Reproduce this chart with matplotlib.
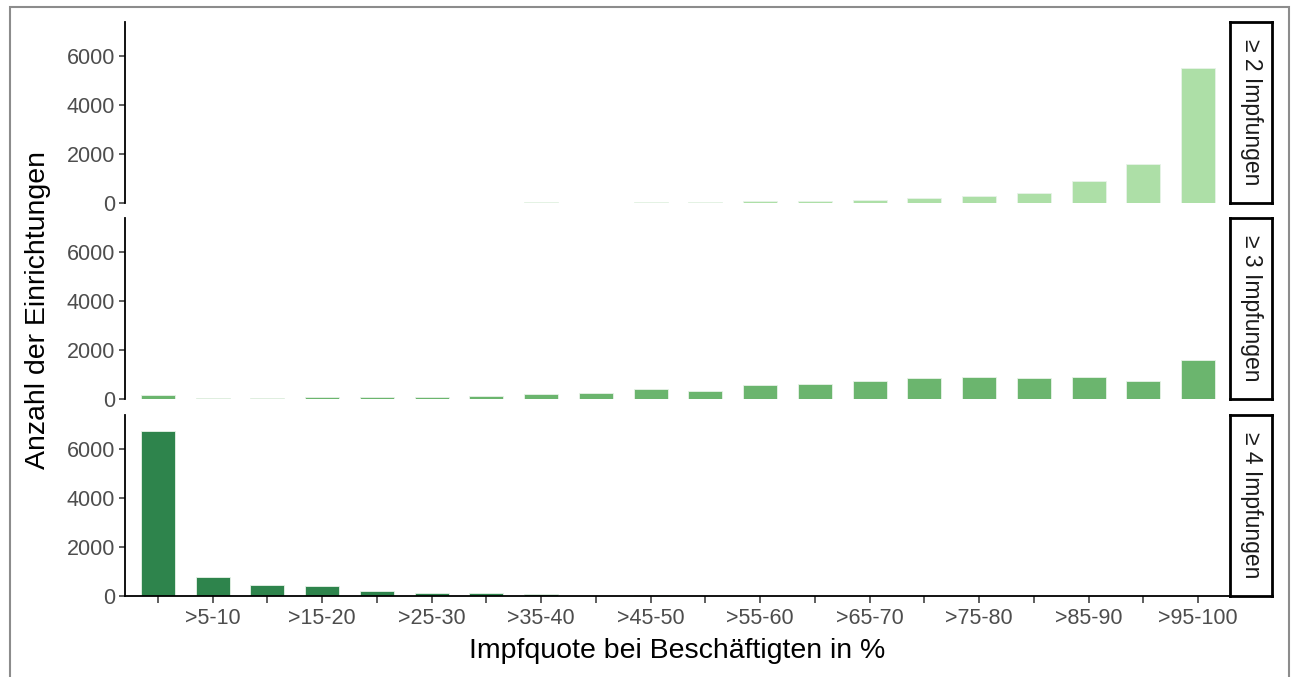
import matplotlib
matplotlib.use("Agg")
import matplotlib.pyplot as plt
from matplotlib.patches import Rectangle

plt.rcParams['font.family'] = ['Liberation Sans', 'DejaVu Sans']

categories = ["0-5", ">5-10", ">10-15", ">15-20", ">20-25", ">25-30", ">30-35", ">35-40",
              ">40-45", ">45-50", ">50-55", ">55-60", ">60-65", ">65-70", ">70-75",
              ">75-80", ">80-85", ">85-90", ">90-95", ">95-100"]

facets = ["≥ 2 Impfungen", "≥ 3 Impfungen", "≥ 4 Impfungen"]

values_2 = [0, 0, 0, 0, 0, 0, 0, 25, 5, 40, 25, 70, 70, 110, 190, 300, 420, 885, 1590, 5500]
values_3 = [150, 30, 30, 70, 90, 90, 120, 205, 230, 410, 330, 560, 612, 748, 844, 884, 844, 912, 721, 1592]
values_4 = [6740, 776, 463, 395, 218, 136, 122, 80, 10, 60, 5, 3, 2, 2, 1, 1, 1, 1, 1, 1]

series = [values_2, values_3, values_4]
colors = ["#addfa7", "#6bb56e", "#2e844c"]

W, H = 1296, 677
fig = plt.figure(figsize=(W / 100, H / 100), dpi=100)

# outer gray frame
fig.patches.append(Rectangle((10 / W, -0.01), (1289 - 10) / W, 1 - 7 / H + 0.01,
                             transform=fig.transFigure, fill=False,
                             edgecolor="#8c8c8c", lw=1.5))

left_px, right_px = 125, 1231
panels_px = [(22, 203), (218, 399), (415, 596)]
x = list(range(len(categories)))

for i, (top, bot) in enumerate(panels_px):
    ax = fig.add_axes([left_px / W, 1 - bot / H, (right_px - left_px) / W, (bot - top) / H])
    ax.bar(x, series[i], width=0.62, color=colors[i], edgecolor="#e8f3e8", linewidth=0.6)
    ax.set_xlim(-0.6, len(categories) - 0.4)
    ax.set_ylim(0, 7390)
    ax.set_yticks([0, 2000, 4000, 6000])
    ax.set_yticklabels(["0", "2000", "4000", "6000"])
    for s in ["top", "right"]:
        ax.spines[s].set_visible(False)
    ax.spines["left"].set_linewidth(1.3)
    ax.spines["left"].set_color("black")
    ax.tick_params(axis="y", length=4, width=1.1, color="#333333",
                   labelsize=15.5, labelcolor="#4d4d4d", pad=3)
    if i < 2:
        ax.spines["bottom"].set_visible(False)
        ax.set_xticks([])
    else:
        ax.spines["bottom"].set_linewidth(1.3)
        ax.spines["bottom"].set_color("black")
        ax.set_xticks(x)
        ax.set_xticklabels([c if k % 2 == 1 else "" for k, c in enumerate(categories)])
        ax.tick_params(axis="x", length=5, width=1.1, color="#333333",
                       labelsize=15.5, labelcolor="#4d4d4d", pad=4)
    # strip
    sx = fig.add_axes([1230 / W, 1 - bot / H, 42 / W, (bot - top) / H])
    sx.set_xticks([])
    sx.set_yticks([])
    for s in sx.spines.values():
        s.set_linewidth(2)
        s.set_color("black")
    sx.text(0.5, 0.5, facets[i], rotation=-90, ha="center", va="center",
            fontsize=16.5, color="#1a1a1a", transform=sx.transAxes)

fig.text(38 / W, 1 - 310 / H, "Anzahl der Einrichtungen", rotation=90,
         ha="center", va="center", fontsize=20.5, color="black")
fig.text(677 / W, 1 - 651 / H, "Impfquote bei Beschäftigten in %",
         ha="center", va="center", fontsize=20.5, color="black")

fig.savefig("out.png", dpi=100)
